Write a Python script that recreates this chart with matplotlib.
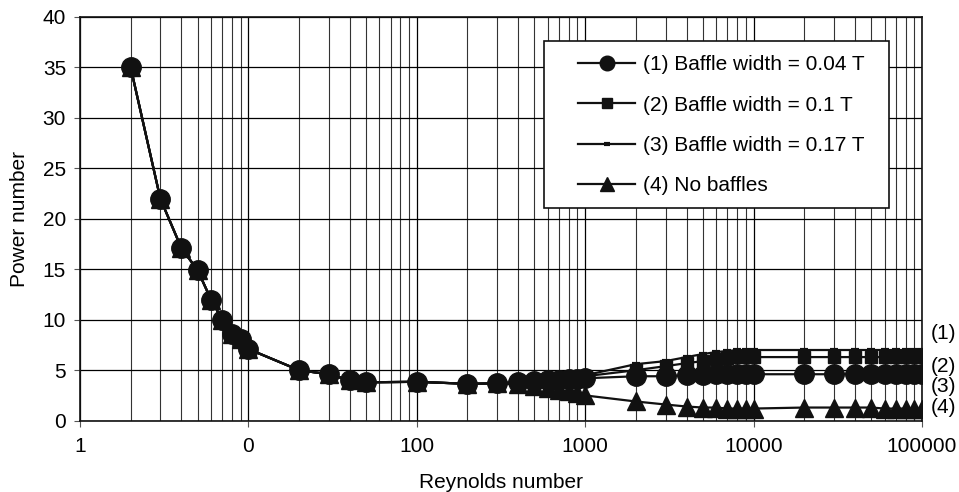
import matplotlib
matplotlib.use('Agg')
import matplotlib.pyplot as plt
from matplotlib.patches import Rectangle
from matplotlib.ticker import FixedLocator, FixedFormatter, LogLocator, NullFormatter

plt.rcParams['font.family'] = ['Liberation Sans', 'DejaVu Sans']

# Reynolds numbers of the measured points
re_low = [2, 3, 4, 5, 6, 7, 8, 9, 10, 20, 30, 40, 50, 100, 200, 300]
np_low = [35, 22, 17.1, 14.9, 12, 10, 8.6, 8.1, 7.1, 5.0, 4.6, 4.0, 3.8, 3.85, 3.65, 3.7]

re_high = [400, 500, 600, 700, 800, 900, 1000, 2000, 3000, 4000, 5000, 6000, 7000,
           8000, 9000, 10000, 20000, 30000, 40000, 50000, 60000, 70000, 80000,
           90000, 100000]
np1_high = [3.8, 3.9, 4.0, 4.0, 4.1, 4.1, 4.2, 4.4, 4.4, 4.5, 4.5, 4.6, 4.6,
            4.6, 4.6, 4.6, 4.6, 4.6, 4.6, 4.6, 4.6, 4.6, 4.6, 4.6, 4.6]
np2_high = [3.8, 3.9, 4.0, 4.1, 4.2, 4.3, 4.4, 5.0, 5.4, 5.7, 5.9, 6.1, 6.2,
            6.3, 6.3, 6.3, 6.3, 6.3, 6.3, 6.3, 6.3, 6.3, 6.3, 6.3, 6.3]
np3_high = [3.8, 3.9, 4.0, 4.1, 4.2, 4.4, 4.5, 5.6, 5.9, 6.3, 6.6, 6.8, 6.9,
            7.0, 7.0, 7.0, 7.0, 7.0, 7.0, 7.0, 7.0, 7.0, 7.0, 7.0, 7.0]
np4_high = [3.6, 3.4, 3.2, 3.0, 2.9, 2.7, 2.5, 1.9, 1.6, 1.4, 1.3, 1.3, 1.2,
            1.2, 1.2, 1.2, 1.3, 1.3, 1.3, 1.3, 1.2, 1.2, 1.2, 1.2, 1.2]

labels = ['(1) Baffle width = 0.04 T', '(2) Baffle width = 0.1 T',
          '(3) Baffle width = 0.17 T', '(4) No baffles']
side_labels = ['(1)', '(2)', '(3)', '(4)']
side_y = [8.6, 5.4, 3.4, 1.3]

xticks = [1, 10, 100, 1000, 10000, 100000]
xticklabels = ['1', '0', '100', '1000', '10000', '100000']

re = re_low + re_high
fig = plt.figure(figsize=(9.59, 4.92), dpi=100)
ax = fig.add_axes([0.0834, 0.145, 0.878, 0.8205])

fs = 15
ax.plot(re, np_low + np4_high, color='#111111', lw=1.6, marker='^', ms=13,
        label=labels[3], zorder=3)
ax.plot(re, np_low + np3_high, color='#111111', lw=1.6, marker='_', ms=6,
        mew=3, label=labels[2], zorder=4)
ax.plot(re, np_low + np2_high, color='#111111', lw=1.6, marker='s', ms=9,
        label=labels[1], zorder=5)
ax.plot(re, np_low + np1_high, color='#111111', lw=1.6, marker='o', ms=14,
        label=labels[0], zorder=6)

ax.set_xscale('log')
ax.set_xlim(1, 100000)
ax.set_ylim(0, 40)
ax.set_yticks(range(0, 41, 5))
ax.xaxis.set_major_locator(FixedLocator(xticks))
ax.xaxis.set_major_formatter(FixedFormatter(xticklabels))
ax.xaxis.set_minor_locator(LogLocator(base=10, subs=range(2, 10)))
ax.xaxis.set_minor_formatter(NullFormatter())

ax.grid(True, which='major', axis='both', color='#000000', lw=0.9)
ax.grid(True, which='minor', axis='x', color='#333333', lw=0.8)
ax.set_axisbelow(True)
ax.tick_params(axis='both', which='major', direction='out', length=4,
               labelsize=fs, color='#555555')
ax.tick_params(axis='x', which='major', pad=8)
ax.tick_params(axis='y', which='major', pad=6)
ax.tick_params(axis='x', which='minor', length=0)
for s in ax.spines.values():
    s.set_color('#111111')
    s.set_linewidth(1.2)

ax.set_xlabel('Reynolds number', fontsize=fs, labelpad=12)
ax.set_ylabel('Power number', fontsize=fs, labelpad=10)

# legend box drawn separately so the padding matches
ax.add_patch(Rectangle((0.551, 0.527), 0.41, 0.4137, transform=ax.transAxes,
                       facecolor='white', edgecolor='#111111', lw=1.2, zorder=9))
h, l = ax.get_legend_handles_labels()
leg = ax.legend(h[::-1], l[::-1], loc='upper left', bbox_to_anchor=(0.5914, 0.905),
                borderaxespad=0, borderpad=0, fontsize=fs, frameon=False,
                handlelength=2.75, labelspacing=1.02, handletextpad=0.35,
                markerscale=0.75)
leg.set_zorder(10)

for t, yv in zip(side_labels, side_y):
    ax.text(1.011, yv, t, transform=ax.get_yaxis_transform(), fontsize=fs,
            va='center', ha='left', clip_on=False)

fig.savefig('out.png', dpi=100)
